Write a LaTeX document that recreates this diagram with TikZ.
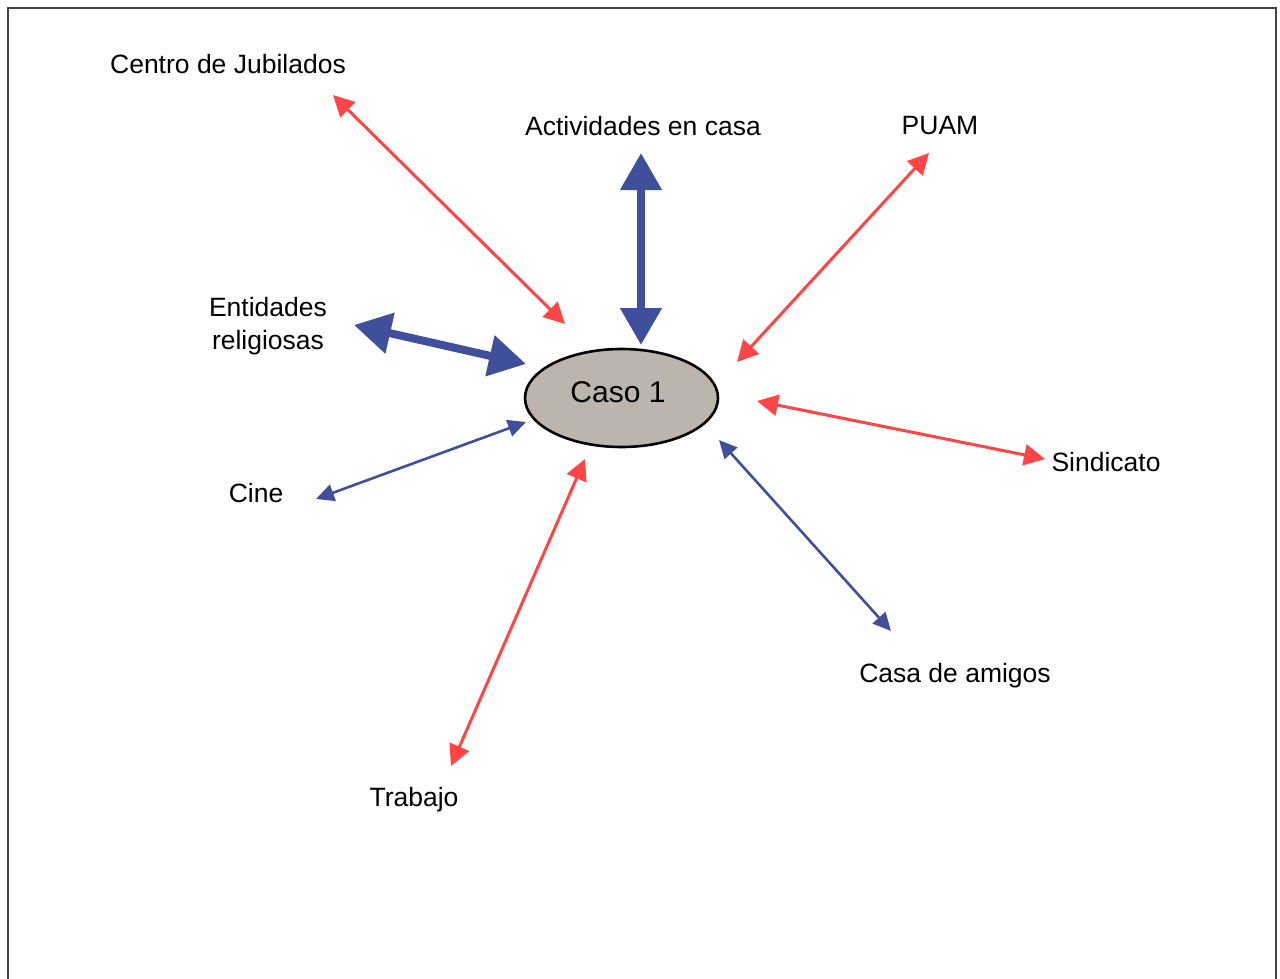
\documentclass[tikz,border=0pt]{standalone}
\usepackage{fontspec}
\setmainfont{Liberation Sans}
\usetikzlibrary{arrows.meta,shapes.geometric}
\definecolor{redarr}{HTML}{FF4545}
\definecolor{bluearr}{HTML}{3F4F9C}
\definecolor{ellfill}{HTML}{BCB5AE}
\definecolor{frame}{HTML}{444444}
\tikzset{
  lbl/.style={font=\fontsize{26.5}{30}\selectfont, text=black, inner sep=0pt},
  redlink/.style={draw=redarr, line width=3pt, {Triangle[length=21pt,width=21pt]}-{Triangle[length=21pt,width=21pt]}, color=redarr},
  thinblue/.style={draw=bluearr, line width=2.6pt, {Triangle[length=18pt,width=17pt]}-{Triangle[length=18pt,width=17pt]}, color=bluearr},
  thickblue/.style={draw=bluearr, line width=8pt, {Triangle[length=37pt,width=40pt]}-{Triangle[length=37pt,width=40pt]}, color=bluearr},
}
\begin{document}
\begin{tikzpicture}[x=1pt,y=-1pt]
\useasboundingbox (0,0) rectangle (1280,979);
\clip (0,0) rectangle (1280,979);
\draw[frame, line width=2.2pt] (8,8) rectangle (1276,1000);

\node[ellipse, draw=black, line width=2.6pt, fill=ellfill, minimum width=193pt, minimum height=98pt, inner sep=0pt] (caso) at (621.5,398) {};
\node[font=\fontsize{30}{34}\selectfont, inner sep=0pt] (casolbl) at (618,392) {Caso 1};

\node[lbl] (centro) at (228,64) {Centro de Jubilados};
\node[lbl] (activ) at (643,126) {Actividades en casa};
\node[lbl] (puam) at (940,126) {PUAM};
\node[lbl, align=center] (entid) at (268,326) {Entidades\\[3pt]religiosas};
\node[lbl] (cine) at (256,493) {Cine};
\node[lbl] (sind) at (1106,462) {Sindicato};
\node[lbl] (amigos) at (955,676) {Casa de amigos};
\node[lbl] (trabajo) at (414,800) {Trabajo};

% arrow end points
\coordinate (a1) at (333,95);   \coordinate (b1) at (565,324);
\coordinate (a2) at (641,153);  \coordinate (b2) at (641,345);
\coordinate (a3) at (929,153);  \coordinate (b3) at (737,362);
\coordinate (a4) at (354,325);  \coordinate (b4) at (526,364);
\coordinate (a5) at (757,401);  \coordinate (b5) at (1045,459);
\coordinate (a6) at (316,499);  \coordinate (b6) at (526,422);
\coordinate (a7) at (719,440);  \coordinate (b7) at (891,631);
\coordinate (a8) at (585,459);  \coordinate (b8) at (451,766);

\draw[redlink] (a1) -- (b1);
\draw[thickblue] (a2) -- (b2);
\draw[redlink] (a3) -- (b3);
\draw[thickblue] (a4) -- (b4);
\draw[redlink] (a5) -- (b5);
\draw[thinblue] (a6) -- (b6);
\draw[thinblue] (a7) -- (b7);
\draw[redlink] (a8) -- (b8);
\end{tikzpicture}
\end{document}
